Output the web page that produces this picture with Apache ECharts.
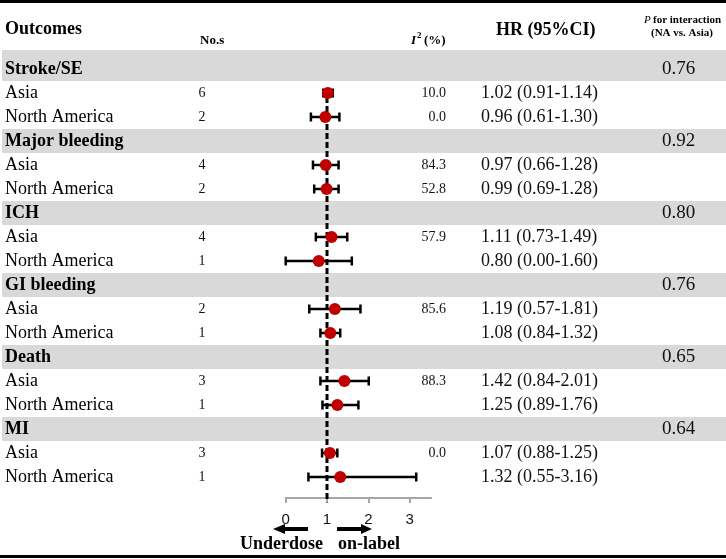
<!DOCTYPE html>
<html>
<head>
<meta charset="utf-8">
<script src="https://cdn.jsdelivr.net/npm/echarts@6/dist/echarts.min.js"></script>
<style>
html, body { margin: 0; padding: 0; background: #fff; }
#chart { width: 726px; height: 559px; }
</style>
</head>
<body>
<div id="chart"></div>
<script>
// ---- data ----
let groups = ['Stroke/SE', 'Major bleeding', 'ICH', 'GI bleeding', 'Death', 'MI'];
let pInteraction = ['0.76', '0.92', '0.80', '0.76', '0.65', '0.64'];
let regions = ['Asia', 'North America'];
let studies = [6, 2, 4, 2, 4, 1, 2, 1, 3, 1, 3, 1];
let i2 = ['10.0', '0.0', '84.3', '52.8', '57.9', '', '85.6', '', '88.3', '', '0.0', ''];
let hr = [1.02, 0.96, 0.97, 0.99, 1.11, 0.80, 1.19, 1.08, 1.42, 1.25, 1.07, 1.32];
let lo = [0.91, 0.61, 0.66, 0.69, 0.73, 0.00, 0.57, 0.84, 0.84, 0.89, 0.88, 0.55];
let hi = [1.14, 1.30, 1.28, 1.28, 1.49, 1.60, 1.81, 1.32, 2.01, 1.76, 1.25, 3.16];
let xTicks = [0, 1, 2, 3];

let serif = 'Liberation Serif, Times New Roman, serif';
let sans = 'Liberation Sans, Arial, sans-serif';

// row index of each subgroup line: group k -> header 3k, rows 3k+1, 3k+2
let rowOf = function (i) { return Math.floor(i / 2) * 3 + 1 + (i % 2); };

let hrText = hr.map(function (v, i) {
    return v.toFixed(2) + ' (' + lo[i].toFixed(2) + '-' + hi[i].toFixed(2) + ')';
});

// text column drawn through the table grid
function textSeries(x, rows, texts, font, align, color) {
    return {
        type: 'custom',
        xAxisIndex: 0,
        yAxisIndex: 0,
        silent: true,
        z: 5,
        data: rows.map(function (r) { return [x, r]; }),
        renderItem: function (params, api) {
            let p = api.coord([api.value(0), api.value(1)]);
            return {
                type: 'text',
                x: p[0],
                y: p[1],
                style: {
                    text: texts[params.dataIndex],
                    font: font,
                    fill: color || '#000',
                    align: align || 'left',
                    verticalAlign: 'middle'
                }
            };
        }
    };
}

let subRows = hr.map(function (v, i) { return rowOf(i); });
let groupRows = groups.map(function (g, k) { return 3 * k; });
let regionText = hr.map(function (v, i) { return regions[i % 2]; });

// ----------------------------------------------------
let chart = echarts.init(document.getElementById('chart'));
let yRange = { min: -2.5, max: 17.875 };
let option = {
    animation: false,
    backgroundColor: '#fff',
    grid: [
        { left: 0, top: 9, width: 726, height: 489 },
        { left: 285.7, top: 9, width: 145.4, height: 489 }
    ],
    xAxis: [
        { gridIndex: 0, type: 'value', min: 0, max: 726, show: false },
        {
            gridIndex: 1, type: 'value', min: 0, max: 3.52, interval: 1,
            position: 'bottom',
            z: 2,
            axisLine: { show: true, onZero: false, lineStyle: { color: '#a6a6a6', width: 2 } },
            axisTick: { show: true, length: 5, customValues: xTicks, lineStyle: { color: '#a6a6a6', width: 2 } },
            axisLabel: {
                color: '#111', fontFamily: sans, fontSize: 15, margin: 14,
                customValues: xTicks
            },
            splitLine: { show: false }
        }
    ],
    yAxis: [
        { gridIndex: 0, type: 'value', inverse: true, min: yRange.min, max: yRange.max, show: false },
        { gridIndex: 1, type: 'value', inverse: true, min: yRange.min, max: yRange.max, show: false }
    ],
    graphic: [
        { type: 'rect', shape: { x: 0, y: 0, width: 726, height: 3 }, style: { fill: '#000' } },
        { type: 'rect', shape: { x: 0, y: 555, width: 726, height: 3 }, style: { fill: '#000' } },
        { type: 'text', x: 5, y: 29, style: { text: 'Outcomes', font: 'bold 18px ' + serif, fill: '#000', verticalAlign: 'middle' } },
        { type: 'text', x: 200, y: 41, style: { text: 'No.s', font: 'bold 13px ' + serif, fill: '#000', verticalAlign: 'middle' } },
        { type: 'text', x: 411, y: 41, style: { text: 'I', font: 'italic bold 13px ' + serif, fill: '#000', verticalAlign: 'middle' } },
        { type: 'text', x: 417, y: 36, style: { text: '2', font: 'bold 9px ' + serif, fill: '#000', verticalAlign: 'middle' } },
        { type: 'text', x: 424, y: 41, style: { text: '(%)', font: 'bold 13px ' + serif, fill: '#000', verticalAlign: 'middle' } },
        { type: 'text', x: 496, y: 30, style: { text: 'HR (95%CI)', font: 'bold 18px ' + serif, fill: '#000', verticalAlign: 'middle' } },
        { type: 'text', x: 644, y: 20, style: { text: 'P', font: 'italic 11px ' + serif, fill: '#000', verticalAlign: 'middle' } },
        { type: 'text', x: 653, y: 20, style: { text: 'for interaction', font: 'bold 11px ' + serif, fill: '#000', verticalAlign: 'middle' } },
        { type: 'text', x: 682, y: 33, style: { text: '(NA vs. Asia)', font: 'bold 11px ' + serif, fill: '#000', align: 'center', verticalAlign: 'middle' } },
        // direction arrows under the axis
        { type: 'line', shape: { x1: 284, y1: 529, x2: 308, y2: 529 }, style: { stroke: '#000', lineWidth: 4 } },
        { type: 'polygon', shape: { points: [[273, 529], [285, 524], [285, 534]] }, style: { fill: '#000' } },
        { type: 'line', shape: { x1: 337, y1: 529, x2: 362, y2: 529 }, style: { stroke: '#000', lineWidth: 4 } },
        { type: 'polygon', shape: { points: [[372, 529], [361, 524], [361, 534]] }, style: { fill: '#000' } },
        { type: 'text', x: 240, y: 544, style: { text: 'Underdose', font: 'bold 18px ' + serif, fill: '#000', verticalAlign: 'middle' } },
        { type: 'text', x: 338, y: 544, style: { text: 'on-label', font: 'bold 18px ' + serif, fill: '#000', verticalAlign: 'middle' } }
    ],
    series: [
        {
            // grey band behind each outcome heading
            type: 'custom',
            xAxisIndex: 0,
            yAxisIndex: 0,
            silent: true,
            z: 1,
            data: groupRows.map(function (r) { return [0, r]; }),
            renderItem: function (params, api) {
                let r = api.value(1);
                let top = params.dataIndex === 0 ? r - 0.79 : r - 0.5;
                let p0 = api.coord([2, top]);
                let p1 = api.coord([726, r + 0.5]);
                return {
                    type: 'rect',
                    shape: { x: p0[0], y: p0[1], width: p1[0] - p0[0], height: p1[1] - p0[1] },
                    style: { fill: '#d9d9d9' }
                };
            }
        },
        textSeries(5, groupRows, groups, 'bold 18px ' + serif),
        textSeries(662, groupRows, pInteraction, '19px ' + serif, 'left', '#111'),
        textSeries(5, subRows, regionText, '18px ' + serif),
        textSeries(202, subRows, studies.map(String), '14px ' + serif, 'center', '#111'),
        textSeries(446, subRows, i2, '14px ' + serif, 'right', '#111'),
        textSeries(481, subRows, hrText, '18px ' + serif, 'left', '#111'),
        {
            // line of no effect
            type: 'line',
            xAxisIndex: 1,
            yAxisIndex: 1,
            clip: false,
            silent: true,
            symbol: 'none',
            z: 3,
            data: [[1, 0.79], [1, 18.05]],
            lineStyle: { color: '#000', width: 3, type: [6, 3] }
        },
        {
            // confidence intervals with end caps
            type: 'custom',
            xAxisIndex: 1,
            yAxisIndex: 1,
            silent: true,
            z: 4,
            data: hr.map(function (v, i) { return [lo[i], hi[i], rowOf(i)]; }),
            renderItem: function (params, api) {
                let a = api.coord([api.value(0), api.value(2)]);
                let b = api.coord([api.value(1), api.value(2)]);
                let st = { stroke: '#000', lineWidth: 2.5 };
                return {
                    type: 'group',
                    children: [
                        { type: 'line', shape: { x1: a[0], y1: a[1], x2: b[0], y2: b[1] }, style: st },
                        { type: 'line', shape: { x1: a[0], y1: a[1] - 4.5, x2: a[0], y2: a[1] + 4.5 }, style: st },
                        { type: 'line', shape: { x1: b[0], y1: b[1] - 4.5, x2: b[0], y2: b[1] + 4.5 }, style: st }
                    ]
                };
            }
        },
        {
            type: 'scatter',
            xAxisIndex: 1,
            yAxisIndex: 1,
            silent: true,
            z: 6,
            symbolSize: 12,
            itemStyle: { color: '#c00000', opacity: 1 },
            data: hr.map(function (v, i) { return [v, rowOf(i)]; })
        }
    ]
};

chart.setOption(option);
</script>
</body>
</html>
